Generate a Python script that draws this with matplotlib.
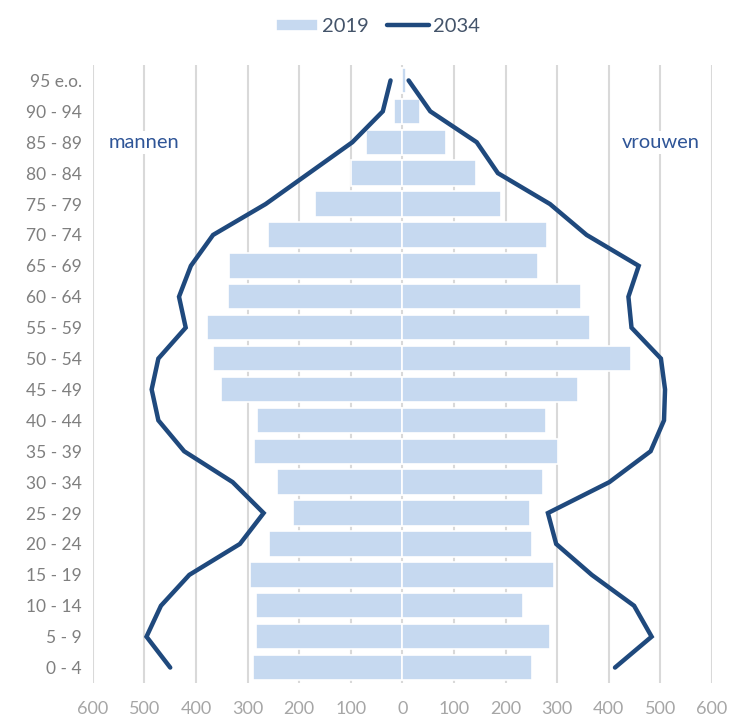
import matplotlib.pyplot as plt
import numpy as np

# age groups, bottom to top
groups = ['0 - 4', '5 - 9', '10 - 14', '15 - 19', '20 - 24', '25 - 29', '30 - 34',
          '35 - 39', '40 - 44', '45 - 49', '50 - 54', '55 - 59', '60 - 64', '65 - 69',
          '70 - 74', '75 - 79', '80 - 84', '85 - 89', '90 - 94', '95 e.o.']

men_2019 = [290, 283, 283, 295, 258, 213, 244, 287, 281, 351,
            367, 379, 338, 337, 260, 170, 99, 70, 17, 2]
women_2019 = [251, 287, 233, 293, 251, 248, 272, 302, 278, 340,
              443, 363, 346, 262, 281, 191, 142, 84, 35, 6]

men_2034 = [450, 496, 468, 413, 315, 269, 329, 423, 473, 486,
            473, 420, 433, 410, 367, 265, 181, 97, 38, 23]
women_2034 = [412, 483, 449, 367, 298, 282, 401, 481, 507, 509,
              501, 444, 438, 458, 357, 286, 185, 144, 54, 12]

xticks = [-600, -500, -400, -300, -200, -100, 0, 100, 200, 300, 400, 500, 600]

bar_col = '#C6D9F0'
line_col = '#1F497D'

plt.rcParams['font.family'] = ['Lato', 'DejaVu Sans']

fig = plt.figure(figsize=(7.31, 7.22), dpi=100)
ax = fig.add_axes([0.127, 0.054, 0.847, 0.856])

y = np.arange(len(groups))
bars = ax.barh(y, -np.array(men_2019), height=0.82, color=bar_col, edgecolor='white',
               linewidth=1.2, zorder=2, label='2019')
ax.barh(y, women_2019, height=0.82, color=bar_col, edgecolor='white',
        linewidth=1.2, zorder=2)
line, = ax.plot(-np.array(men_2034), y, color=line_col, lw=3.2, solid_capstyle='round',
                solid_joinstyle='miter', zorder=3, label='2034')
ax.plot(women_2034, y, color=line_col, lw=3.2, solid_capstyle='round',
        solid_joinstyle='miter', zorder=3)

ax.set_xlim(-600, 600)
ax.set_ylim(-0.5, len(groups) - 0.5)
ax.set_xticks(xticks)
ax.set_xticklabels([str(abs(v)) for v in xticks])
ax.set_yticks(y)
ax.set_yticklabels(groups)
ax.tick_params(axis='x', length=0, pad=13, labelsize=13, labelcolor='#A6A6A6')
ax.tick_params(axis='y', length=0, pad=8, labelsize=12.5, labelcolor='#7F7F7F')
for s in ax.spines.values():
    s.set_visible(False)
ax.grid(axis='x', color='#D9D9D9', lw=1.5, zorder=0)
ax.set_axisbelow(True)

ax.text(-500, 17, 'mannen', color='#2F5597', fontsize=14.5, ha='center', va='center',
        bbox=dict(facecolor='white', edgecolor='none', pad=2), zorder=1)
ax.text(500, 17, 'vrouwen', color='#2F5597', fontsize=14.5, ha='center', va='center',
        bbox=dict(facecolor='white', edgecolor='none', pad=2), zorder=1)

fig.legend([bars, line], ['2019', '2034'], loc='upper center',
           bbox_to_anchor=(0.517, 1.0), ncol=2, frameon=False,
           fontsize=14.5, labelcolor='#44546A', handlelength=2.1, handleheight=0.6,
           handletextpad=0.2, columnspacing=0.9)

fig.savefig('out.png', dpi=100)
